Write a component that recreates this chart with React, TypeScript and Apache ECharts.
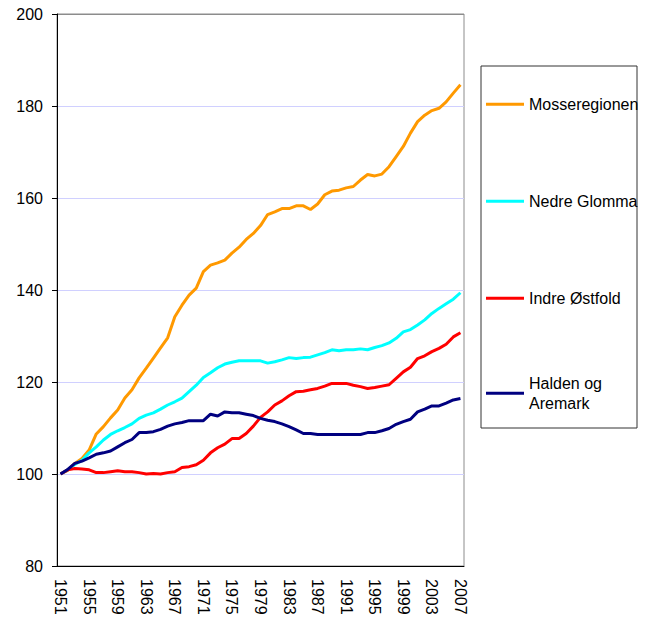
import React, { useEffect, useRef } from "react";
import * as echarts from "echarts";

const years: string[] = [];
for (let y = 1951; y <= 2007; y++) years.push(String(y));

const seriesNames = ["Mosseregionen", "Nedre Glomma", "Indre Østfold", "Halden og Aremark"];
const legendLabels = ["Mosseregionen", "Nedre Glomma", "Indre Østfold", "Halden og\nAremark"];
const seriesColors = ["#FF9900", "#00FFFF", "#FF0000", "#000080"];

const mosseregionen = [
  100, 100.8, 102.3, 103.4, 105.2, 108.7, 110.3, 112.2, 113.9, 116.5,
  118.3, 120.9, 123.0, 125.2, 127.4, 129.6, 134.2, 136.7, 138.9, 140.4,
  144.0, 145.4, 145.9, 146.5, 148.0, 149.3, 151.0, 152.3, 154.0, 156.4,
  157.0, 157.7, 157.7, 158.3, 158.3, 157.5, 158.7, 160.7, 161.5, 161.7,
  162.2, 162.5, 163.9, 165.1, 164.8, 165.2, 166.8, 169.0, 171.2, 174.1,
  176.6, 178.0, 179.0, 179.5, 180.9, 182.8, 184.6,
];

const nedreGlomma = [
  100, 100.9, 102.1, 103.0, 104.6, 105.9, 107.4, 108.6, 109.4, 110.1,
  110.9, 112.1, 112.8, 113.3, 114.1, 115.0, 115.7, 116.5, 117.9, 119.3,
  121.0, 122.0, 123.1, 123.9, 124.3, 124.6, 124.6, 124.6, 124.6, 124.1,
  124.4, 124.8, 125.3, 125.1, 125.3, 125.4, 125.9, 126.4, 127.0, 126.8,
  127.0, 127.0, 127.2, 127.0, 127.5, 127.9, 128.5, 129.5, 130.9, 131.4,
  132.4, 133.5, 134.9, 136.0, 137.0, 138.0, 139.4,
];

const indreOstfold = [
  100, 100.9, 101.2, 101.1, 100.9, 100.3, 100.3, 100.5, 100.7, 100.5,
  100.5, 100.3, 100.0, 100.1, 100.0, 100.3, 100.5, 101.4, 101.6, 102.0,
  103.0, 104.6, 105.7, 106.5, 107.7, 107.7, 108.8, 110.4, 112.3, 113.5,
  115.0, 115.9, 117.0, 117.9, 118.0, 118.3, 118.6, 119.1, 119.7, 119.7,
  119.7, 119.3, 119.0, 118.6, 118.8, 119.1, 119.4, 120.8, 122.2, 123.2,
  125.1, 125.7, 126.6, 127.3, 128.2, 129.8, 130.7,
];

const haldenAremark = [
  100, 101.0, 102.3, 102.8, 103.5, 104.3, 104.6, 105.0, 105.9, 106.8,
  107.5, 109.0, 109.0, 109.2, 109.7, 110.4, 110.9, 111.2, 111.6, 111.6,
  111.6, 113.0, 112.6, 113.5, 113.3, 113.3, 113.0, 112.7, 112.1, 111.7,
  111.4, 110.9, 110.3, 109.6, 108.8, 108.8, 108.6, 108.6, 108.6, 108.6,
  108.6, 108.6, 108.6, 109.0, 109.0, 109.4, 109.9, 110.8, 111.4, 111.9,
  113.5, 114.1, 114.8, 114.8, 115.4, 116.1, 116.4,
];

const seriesValues = [mosseregionen, nedreGlomma, indreOstfold, haldenAremark];

const yMin = 80;
const yMax = 200;
const yStep = 20;

const FONT = "'Liberation Sans', Arial, sans-serif";

export default function App() {
  const ref = useRef<HTMLDivElement>(null);

  useEffect(() => {
    if (!ref.current) return;
    const chart = echarts.init(ref.current, undefined, { renderer: "svg" });
    const labelMap: Record<string, string> = {};
    seriesNames.forEach((n, i) => (labelMap[n] = legendLabels[i]));

    const legendCommon = {
      orient: "vertical" as const,
      left: 486,
      padding: 0,
      icon: "rect",
      itemWidth: 38,
      itemHeight: 3,
      selectedMode: false,
      formatter: (name: string) => labelMap[name] || name,
      textStyle: { fontSize: 16, fontFamily: FONT, color: "#000", lineHeight: 19.5 },
    };

    chart.setOption({
      animation: false,
      backgroundColor: "#fff",
      grid: {
        left: 57,
        top: 14,
        right: 185,
        bottom: 53,
        show: true,
        borderColor: "#8c8c8c",
        borderWidth: 1,
        backgroundColor: "transparent",
      },
      legend: [
        {
          ...legendCommon,
          top: 94.5,
          itemGap: 77.5,
          data: seriesNames.slice(0, 3),
        },
        {
          ...legendCommon,
          top: 364,
          data: [seriesNames[3]],
          textStyle: { ...legendCommon.textStyle, padding: [19.5, 0, 0, 0] },
        },
      ],
      graphic: [
        {
          type: "rect",
          shape: { x: 481, y: 66, width: 156, height: 362 },
          style: { fill: "none", stroke: "#333", lineWidth: 1 },
          silent: true,
        },
      ],
      xAxis: {
        type: "category",
        data: years,
        boundaryGap: true,
        axisLine: { lineStyle: { color: "#000", width: 1 } },
        axisTick: { interval: 0, length: 4, lineStyle: { color: "#000" } },
        axisLabel: {
          interval: 3,
          rotate: -90,
          fontSize: 16,
          fontFamily: FONT,
          color: "#000",
          margin: 13,
        },
        splitLine: { show: false },
      },
      yAxis: {
        type: "value",
        min: yMin,
        max: yMax,
        interval: yStep,
        axisLine: { show: true, lineStyle: { color: "#000", width: 1 } },
        axisTick: { show: true, length: 5, lineStyle: { color: "#000" } },
        axisLabel: { fontSize: 16, fontFamily: FONT, color: "#000", margin: 14 },
        splitLine: {
          show: true,
          lineStyle: {
            color: ["#d0d0ff", "#d0d0ff", "#d0d0ff", "#d0d0ff", "#d0d0ff", "#d0d0ff", "#8c8c8c"],
            width: 1,
          },
        },
      },
      series: seriesNames.map((name, i) => ({
        name,
        type: "line",
        data: seriesValues[i],
        showSymbol: false,
        symbol: "none",
        itemStyle: { color: seriesColors[i] },
        lineStyle: { color: seriesColors[i], width: 3 },
        z: 2 + i,
      })),
    });

    return () => chart.dispose();
  }, []);

  return (
    <div
      ref={ref}
      style={{ position: "absolute", left: 0, top: 0, width: 649, height: 619 }}
    />
  );
}
